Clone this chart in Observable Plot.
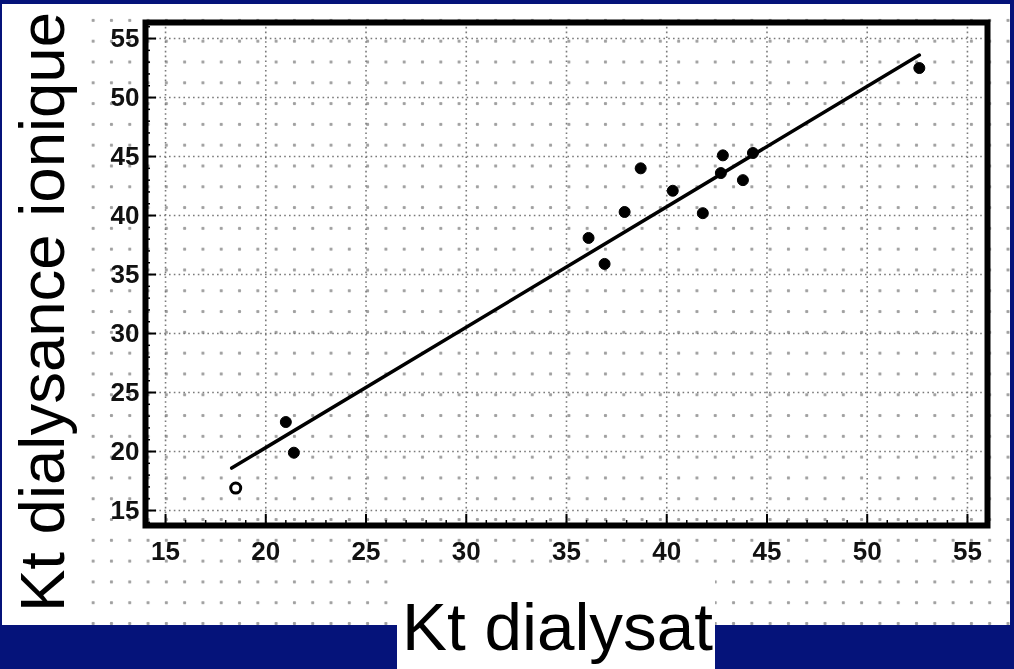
<!DOCTYPE html>
<html>
<head>
<meta charset="utf-8">
<script src="https://cdn.jsdelivr.net/npm/d3@7"></script>
<script src="https://cdn.jsdelivr.net/npm/@observablehq/plot@0.6"></script>
<style>
  html, body { margin: 0; padding: 0; }
  body { width: 1014px; height: 669px; background: #05137a; position: relative; overflow: hidden; }
  #paper { position: absolute; left: 2px; top: 4px; width: 1008px; height: 621px; background: #fff; }
  #scan { position: absolute; left: 80px; top: 4px; width: 930px; height: 621px; background-color: #fff;
    background-image: radial-gradient(circle, #a0a0a0 1.3px, rgba(255,255,255,0) 2px);
    background-size: 18.3px 20.8px; background-position: 4px 6px; }
  #chart { position: absolute; left: 0; top: 0; }
  #chart svg { filter: blur(0.45px); }
  #xbox { position: absolute; left: 397px; top: 578px; width: 318px; height: 91px; background: #fff; }
  #titles { position: absolute; left: 0; top: 0; }
</style>
</head>
<body>
<div id="paper"></div>
<div id="scan"></div>
<div id="chart"></div>
<div id="xbox"></div>
<svg id="titles" width="1014" height="669"></svg>
<script>
// ---- data ----
const kt_dialysat = [18.5, 21.0, 21.4, 36.1, 36.9, 37.9, 38.7, 40.3, 41.8, 42.7, 42.8, 43.8, 44.3, 52.6];
const kt_ionique  = [16.9, 22.5, 19.9, 38.1, 35.9, 40.3, 44.0, 42.1, 40.2, 43.6, 45.1, 43.0, 45.3, 52.5];
const open_marker = [true, false, false, false, false, false, false, false, false, false, false, false, false, false];
const fit_x = [18.3, 52.6];
const fit_y = [18.6, 53.6];
const x_ticks = [15, 20, 25, 30, 35, 40, 45, 50, 55];
const y_ticks = [15, 20, 25, 30, 35, 40, 45, 50, 55];
const minor_x = [14, 16, 17, 18, 19, 21, 22, 23, 24, 26, 27, 28, 29, 31, 32, 33, 34, 36, 37, 38, 39, 41, 42, 43, 44, 46, 47, 48, 49, 51, 52, 53, 54, 56];
const minor_y = [14, 16, 17, 18, 19, 21, 22, 23, 24, 26, 27, 28, 29, 31, 32, 33, 34, 36, 37, 38, 39, 41, 42, 43, 44, 46, 47, 48, 49, 51, 52, 53, 54, 56];
const x_title = "Kt dialysat";
const y_title = "Kt dialysance ionique";

const points = kt_dialysat.map((x, i) => ({x, y: kt_ionique[i], open: open_marker[i]}));
const fit = fit_x.map((x, i) => ({x, y: fit_y[i]}));

const gridStyle = {stroke: "#7a7a7a", strokeOpacity: 1, strokeWidth: 1.6, strokeDasharray: "1.6,3.2"};
const tickFont = {fontSize: 26, fontWeight: "bold", fill: "#111"};

const chart = Plot.plot({
  width: 1014,
  height: 669,
  marginLeft: 145,
  marginRight: 27,
  marginTop: 22,
  marginBottom: 144,
  style: {background: "transparent", fontFamily: "Liberation Sans, Arial, sans-serif", overflow: "visible"},
  x: {domain: [14, 56], label: null},
  y: {domain: [13.73, 56.36], label: null},
  marks: [
    Plot.gridX(x_ticks, gridStyle),
    Plot.gridY(y_ticks, gridStyle),
    Plot.axisX(minor_x, {tickSize: -5, strokeWidth: 1.5, tickFormat: () => "", label: null}),
    Plot.axisY(minor_y, {tickSize: -5, strokeWidth: 1.5, tickFormat: () => "", label: null}),
    Plot.axisX(x_ticks, {tickSize: -11, strokeWidth: 2, tickFormat: () => "", label: null}),
    Plot.axisY(y_ticks, {tickSize: -11, strokeWidth: 2, tickFormat: () => "", label: null}),
    Plot.axisX(x_ticks, {tickSize: 0, tickPadding: 16, label: null, ...tickFont}),
    Plot.axisY(y_ticks, {tickSize: 0, tickPadding: 6, label: null, ...tickFont}),
    Plot.line(fit, {x: "x", y: "y", stroke: "black", strokeWidth: 3.5}),
    Plot.dot(points.filter(d => !d.open), {x: "x", y: "y", r: 5.5, fill: "black", stroke: "black", strokeWidth: 1}),
    Plot.dot(points.filter(d => d.open), {x: "x", y: "y", r: 5, fill: "white", stroke: "black", strokeWidth: 3}),
    Plot.frame({stroke: "black", strokeWidth: 6})
  ]
});
document.getElementById("chart").appendChild(chart);

// axis titles (big, slide-style)
const titleFont = "'Liberation Sans', Arial, sans-serif";
const titles = d3.select("#titles");
titles.append("text")
  .attr("x", 402).attr("y", 650)
  .attr("font-family", titleFont)
  .attr("font-size", 66)
  .attr("textLength", 311).attr("lengthAdjust", "spacingAndGlyphs")
  .attr("fill", "black")
  .text(x_title);
titles.append("text")
  .attr("transform", "translate(64,612) rotate(-90)")
  .attr("font-family", titleFont)
  .attr("font-size", 63)
  .attr("textLength", 600).attr("lengthAdjust", "spacingAndGlyphs")
  .attr("fill", "black")
  .text(y_title);
</script>
</body>
</html>
